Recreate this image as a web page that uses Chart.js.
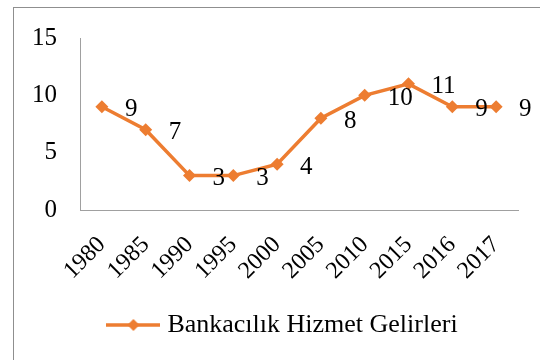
<!DOCTYPE html>
<html>
<head>
<meta charset="utf-8">
<script src="https://cdn.jsdelivr.net/npm/chart.js@4.4.1/dist/chart.umd.min.js"></script>
<style>
  html, body { margin: 0; padding: 0; background: #fff; }
  #wrap { position: relative; width: 540px; height: 360px; overflow: hidden; }
  canvas { display: block; }
</style>
</head>
<body>
<div id="wrap"><canvas id="gelirChart" width="540" height="360"></canvas></div>
<script>
var yillar = ['1980', '1985', '1990', '1995', '2000', '2005', '2010', '2015', '2016', '2017'];
var gelirler = [9, 7, 3, 3, 4, 8, 10, 11, 9, 9];
var seriAdi = 'Bankacılık Hizmet Gelirleri';
var yEksen = { min: 0, max: 15, step: 5 };

var turuncu = '#ED7D31';
var yazi = '"Liberation Serif", "Times New Roman", serif';
var yaziBoyu = 25;

// legend icon: short line with a diamond in the middle
function legendIcon() {
  var c = document.createElement('canvas');
  c.width = 54;
  c.height = 16;
  var g = c.getContext('2d');
  g.strokeStyle = turuncu;
  g.lineWidth = 3.5;
  g.beginPath();
  g.moveTo(0, 8);
  g.lineTo(54, 8);
  g.stroke();
  g.fillStyle = turuncu;
  g.beginPath();
  g.moveTo(27, 2);
  g.lineTo(33, 8);
  g.lineTo(27, 14);
  g.lineTo(21, 8);
  g.closePath();
  g.fill();
  return c;
}

// outer frame of the chart object
var cerceve = {
  id: 'cerceve',
  beforeDraw: function(chart) {
    var ctx = chart.ctx;
    ctx.save();
    ctx.strokeStyle = '#8f8f8f';
    ctx.lineWidth = 1;
    ctx.strokeRect(13.5, 7.5, 700, 500);
    ctx.restore();
  }
};

// legend sits a little right of the plot centre
var legendKaydir = {
  id: 'legendKaydir',
  afterLayout: function(chart) {
    chart.legend.left += 26;
    chart.legend.right += 26;
  }
};

// value labels to the right of each point
var degerEtiketi = {
  id: 'degerEtiketi',
  afterDatasetsDraw: function(chart) {
    var ctx = chart.ctx;
    var meta = chart.getDatasetMeta(0);
    var data = chart.data.datasets[0].data;
    ctx.save();
    ctx.font = yaziBoyu + 'px ' + yazi;
    ctx.fillStyle = '#000';
    ctx.textAlign = 'left';
    ctx.textBaseline = 'middle';
    meta.data.forEach(function(pt, i) {
      ctx.fillText(String(data[i]), pt.x + 23, pt.y + 3);
    });
    ctx.restore();
  }
};

var ctxCanvas = document.getElementById('gelirChart');

new Chart(ctxCanvas.getContext('2d'), {
  type: 'line',
  data: {
    labels: yillar,
    datasets: [{
      label: seriAdi,
      data: gelirler,
      borderColor: turuncu,
      backgroundColor: turuncu,
      borderWidth: 3.5,
      pointStyle: 'rectRot',
      pointRadius: 6.5,
      pointHoverRadius: 6.5,
      pointBorderWidth: 0,
      pointBackgroundColor: turuncu,
      tension: 0
    }]
  },
  options: {
    responsive: false,
    animation: false,
    devicePixelRatio: 1,
    layout: {
      padding: { left: 0, right: 22, top: 37, bottom: 12 }
    },
    plugins: {
      title: { display: false },
      tooltip: { enabled: false },
      legend: {
        position: 'bottom',
        labels: {
          usePointStyle: true,
          pointStyleWidth: 42,
          padding: 10,
          color: '#000',
          font: { family: yazi, size: 26 },
          generateLabels: function(chart) {
            return [{
              text: seriAdi,
              pointStyle: legendIcon(),
              fillStyle: turuncu,
              strokeStyle: turuncu,
              lineWidth: 0,
              hidden: false,
              datasetIndex: 0
            }];
          }
        }
      }
    },
    scales: {
      x: {
        offset: true,
        grid: { display: false, drawTicks: false },
        border: { display: true, color: '#a0a0a0', width: 1 },
        ticks: {
          color: '#000',
          font: { family: yazi, size: 24 },
          minRotation: 45,
          maxRotation: 45,
          padding: 21,
          autoSkip: false
        },
        afterFit: function(scale) { scale.height = 92; }
      },
      y: {
        min: yEksen.min,
        max: yEksen.max,
        grid: { display: false, drawTicks: false },
        border: { display: true, color: '#a0a0a0', width: 1 },
        ticks: {
          stepSize: yEksen.step,
          color: '#000',
          font: { family: yazi, size: yaziBoyu },
          padding: 23
        },
        afterFit: function(scale) { scale.width = 80; }
      }
    }
  },
  plugins: [cerceve, legendKaydir, degerEtiketi]
});
</script>
</body>
</html>
